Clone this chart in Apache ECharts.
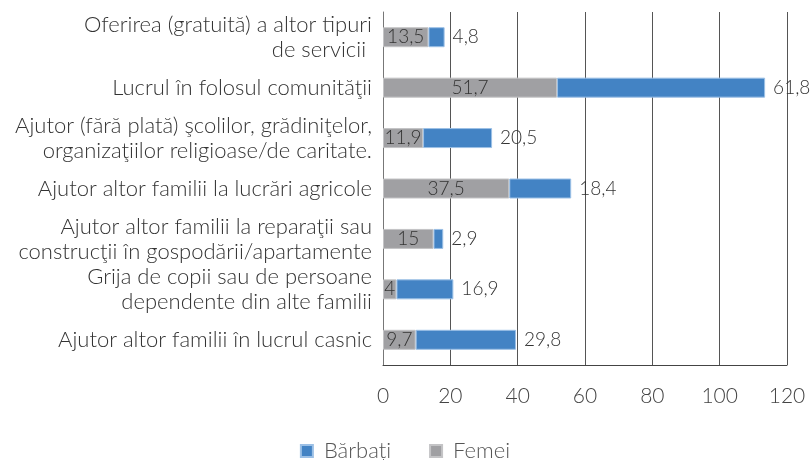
<!DOCTYPE html>
<html>
<head>
<meta charset="utf-8">
<script src="https://cdn.jsdelivr.net/npm/echarts@6/dist/echarts.min.js"></script>
<style>
  html, body { margin: 0; padding: 0; background: #fff; }
  #chart { width: 810px; height: 460px; }
</style>
</head>
<body>
<div id="chart"></div>
<script>
// date din grafic
var categorii = [
  'Oferirea (gratuită) a altor tipuri\nde servicii ',
  'Lucrul în folosul comunităţii',
  'Ajutor (fără plată) şcolilor, grădiniţelor,\norganizaţiilor religioase/de caritate.',
  'Ajutor altor familii la lucrări agricole',
  'Ajutor altor familii la reparaţii sau\nconstrucţii în gospodării/apartamente',
  'Grija de copii sau de persoane\ndependente din alte familii',
  'Ajutor altor familii în lucrul casnic'
];
var femei = [13.5, 51.7, 11.9, 37.5, 15, 4, 9.7];
var barbati = [4.8, 61.8, 20.5, 18.4, 2.9, 16.9, 29.8];
var axaX = [0, 20, 40, 60, 80, 100, 120];

var font = 'Lato';
var fmt = function (p) { return String(p.value).replace('.', ','); };

var myChart = echarts.init(document.getElementById('chart'));
var option = {
  textStyle: { fontFamily: font },
  animation: false,
  legend: {
    top: 435,
    left: 'center',
    itemWidth: 12,
    itemHeight: 12,
    itemGap: 38,
    icon: 'rect',
    data: ['Bărbați', 'Femei'],
    textStyle: { fontFamily: font, fontSize: 22, color: '#555', fontWeight: 300, padding: [0, 0, 0, 6] }
  },
  grid: { left: 383, right: 23, top: 12, bottom: 95 },
  xAxis: {
    type: 'value',
    min: axaX[0],
    max: axaX[axaX.length - 1],
    interval: 20,
    axisLine: { show: true, lineStyle: { color: '#444', width: 1 } },
    axisTick: { show: false },
    splitLine: { show: true, lineStyle: { color: '#555', width: 1 } },
    axisLabel: { margin: 21, fontFamily: font, fontSize: 21, color: '#444', fontWeight: 300 }
  },
  yAxis: {
    type: 'category',
    inverse: true,
    data: categorii,
    axisLine: { show: true, lineStyle: { color: '#777', width: 1 } },
    axisTick: { show: false },
    axisLabel: {
      margin: 11,
      fontFamily: font,
      fontSize: 22,
      lineHeight: 25,
      color: '#333',
      fontWeight: 300,
      align: 'right'
    }
  },
  series: [
    {
      name: 'Femei',
      type: 'bar',
      stack: 'total',
      barWidth: 20,
      data: femei,
      itemStyle: { color: '#a0a0a3', borderColor: '#c4c4c6', borderWidth: 1 },
      label: {
        show: true,
        position: 'inside',
        formatter: fmt,
        fontFamily: font,
        fontSize: 19,
        color: '#333',
        fontWeight: 300
      }
    },
    {
      name: 'Bărbați',
      type: 'bar',
      stack: 'total',
      barWidth: 20,
      data: barbati,
      itemStyle: { color: '#4383c4', borderColor: '#9cc0e6', borderWidth: 1 },
      label: {
        show: true,
        position: 'right',
        distance: 8,
        formatter: fmt,
        fontFamily: font,
        fontSize: 19,
        color: '#333',
        fontWeight: 300
      }
    }
  ]
};
myChart.setOption(option);
</script>
</body>
</html>
